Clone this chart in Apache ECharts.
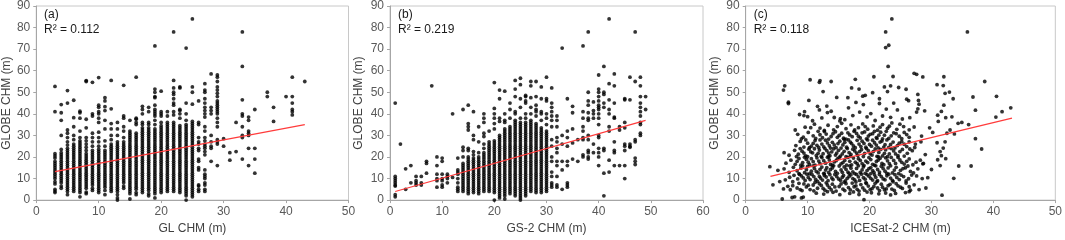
<!DOCTYPE html>
<html>
<head>
<meta charset="utf-8">
<script src="https://cdn.jsdelivr.net/npm/echarts@6/dist/echarts.min.js"></script>
<style>
html,body{margin:0;padding:0;background:#fff;}
#chart{width:1065px;height:240px;}
</style>
</head>
<body>
<div id="chart"></div>
<script>
// ---------- DATA ----------
const panelLabels = ['(a)', '(b)', '(c)'];
const r2Labels = ['R\u00B2 = 0.112', 'R\u00B2 = 0.219', 'R\u00B2 = 0.118'];
const xNames = ['GL CHM (m)', 'GS-2 CHM (m)', 'ICESat-2 CHM (m)'];
const yName = 'GLOBE CHM (m)';
const xMaxes = [50, 60, 50];
const yTicks = [0, 10, 20, 30, 40, 50, 60, 70, 80, 90];

// (a) GL CHM columns: [x, [GLOBE y values]]
const glColumns = [
  [3, [3.5,4.2,5,7.5,8.5,10,11,12,13,14,15,16,17,18,19.5,20.5,21.5,41,52.7]],
  [4, [5.5,6.5,8,9,10,11,12,13,14,15,16,17,18,19,20,21,22,23.5,30,37,40.5,44.3]],
  [5, [2.5,4,5,6,7,8,9,10,11,12,13,14,15,16,17,18,19,20,21,22,23,24,25.5,27,29,31,32.5,45,50.8]],
  [6, [4,5,6,7,8,9,10,11,12,13,14,15,16,17,18,19,20,21,22,23,24,25,26,28,30,34,38.2,46.3]],
  [7, [1.5,3.5,4.5,5.5,6.5,7.5,8.5,9.5,10.5,11.5,12.5,13.5,14.5,15.5,16.5,17.5,18.5,19.5,20.5,21.5,22.5,23.5,24.5,25.5,26.5,27.5,29,32,38,40.5,41.2]],
  [8, [3,3.7,5.5,6.5,7.5,8.5,9.5,10.5,11.5,12.5,13.5,14.5,15.5,16.5,17.5,18.5,19.5,20.5,21.5,23,24.5,26,27.5,29,33.5,37.5,55,55.4]],
  [9, [4.5,5.5,7,8,9,10,11,12,13,14,15,16,17,18,19,20,21,22,23,25,27,29,31,39,40,54.6]],
  [10, [3.5,4.5,5.5,6.5,7.5,8.5,9.5,10.5,11.5,12.5,13.5,14.5,15.5,16.5,17.5,18.5,19.5,20.5,21.5,22.5,23.5,25,27,29,31.5,36,38,40,41,43,44,56.8]],
  [11, [2.5,4.5,6,7,8,9,10,11,12,13,14,15,16,17,18,19,20,21,22,23,25,27.5,33,37,41.5,43.3,46,47.5]],
  [12, [4,5,6,7,8,9,10,11,12,13,14,15,16,17,18,19,20,21,22,23,24,25,26,28,30,33,35.5,42.3,55.5]],
  [13, [0,1,2.5,4,5,6,7,8,9,10,11,12,13,14,15,16,17,18,19,20,21,22,23,24,25,26,27,30,33,36]],
  [14, [5.5,6.5,8,9,10,11,12,13,14,15,16,17,18,19,20,21,22,23,24,25,26,27,29,32,34,38,39,53.2]],
  [15, [0.5,3,4,5,6,7,8,9,10,11,12,13,14,15,16,17,18,19,20,21,22,23,24,25,26,27,28,29,30,31,32,37]],
  [16, [2.5,3.5,5,6,7,8,9,10,11,12,13,14,15,16,17,18,19,20,21,22,23,24,25,26,27,28,29,30,31,35,36,37.5,38,57]],
  [17, [3.5,4.5,5.5,6.5,7.5,8.5,9.5,10.5,11.5,12.5,13.5,14.5,15.5,16.5,17.5,18.5,19.5,20.5,21.5,22.5,23.5,24.5,25.5,26.5,27.5,28.5,29.5,30.5,31.5,32.5,33.5,35,36,40,42,43.5]],
  [18, [2,3,4.5,5.5,6.5,7.5,8.5,9.5,10.5,11.5,12.5,13.5,14.5,15.5,16.5,17.5,18.5,19.5,20.5,21.5,22.5,23.5,24.5,25.5,26.5,27.5,28.5,29.5,30.5,31.5,32.5,33.5,35,36,41,43]],
  [19, [1,3,4,5,6,7,8,9,10,11,12,13,14,15,16,17,18,19,20,21,22,23,24,25,26,27,28,29,30,31,32,33,35,37,39,40,41,42,44,47.5,48,50,51.5,71.5]],
  [20, [3.5,4.5,5.5,6.5,7.5,8.5,9.5,10.5,11.5,12.5,13.5,14.5,15.5,16.5,17.5,18.5,19.5,20.5,21.5,22.5,23.5,24.5,25.5,26.5,27.5,28.5,29.5,30.5,31.5,32.5,33.5,34.5,36,39,40,41,50.5]],
  [21, [4,5,6,7,8,9,10,11,12,13,14,15,16,17,18,19,20,21,22,23,24,25,26,27,28,29,30,31,32,33,34,35,36,39,41]],
  [22, [4,5,6,7,8,9,10,11,12,13,14,15,16,17,18,19,20,21,22,23,24,25,26,27,28,29,30,31,32,33,34,35,36,39.5,41,44,45,47,49,50,52,55.5,78]],
  [23, [3.5,4.5,5.5,6.5,7.5,8.5,9.5,10.5,11.5,12.5,13.5,14.5,15.5,16.5,17.5,18.5,19.5,20.5,21.5,22.5,23.5,24.5,25.5,26.5,27.5,28.5,29.5,30.5,31.5,32.5,33.5,34.5,38,40,41.5,42,52,52.5]],
  [24, [0,2,3,4,5,6,7,8,9,10,11,12,13,14,15,16,17,18,19,20,21,22,23,24,25,26,27,28,29,30,31,32,33,34,35,37,40,45,70.5]],
  [25, [1.5,2.5,3.5,4.5,5.5,6.5,7.5,8.5,9.5,10.5,11.5,12.5,13.5,14.5,15.5,16.5,17.5,18.5,19.5,20.5,21.5,22.5,23.5,24.5,25.5,26.5,27.5,28.5,29.5,30.5,31.5,32.5,33.5,34.5,35.5,36.5,44.5,50,52.5,84]],
  [26, [4,5,6.5,7,14,15,18,19,23,24,26,27,29,35,36,46]],
  [27, [4,5,7,8,10,11,12,14,21,22.5,24,25,26,27.5,29,32,34,38.5,40,41.5,43,45,47,50,51,54]],
  [28, [18,24,25,27,30,40,41.5,43,58.5]],
  [29, [16,26,27,28,34,36,38,40,41,42,43,44,45,46,48,49.5,51,52.5,55,57,58]],
  [30, [25,28.5]],
  [31, [18.5,22]],
  [32, [22.5,36]],
  [33, [19,29,30,34,39,40,46.5,62,78]],
  [34, [16,24,30,31,32,37,38.5]],
  [35, [12.5,19,24,42]],
  [37, [48,50]],
  [38, [36.5,43]],
  [40, [48]],
  [41, [39.5,41,42,45,48,57]],
  [43, [55]]
];

// (b) GS-2 CHM columns: [x, [GLOBE y values]]
const gsColumns = [
  [1, [1.5,2.5,6.5,7,8,9,10,11,45]],
  [2, [26]],
  [3, [5,14.5]],
  [4, [8,16]],
  [5, [7,8,9,11]],
  [6, [7,8,11]],
  [7, [12.5,17,18]],
  [8, [53]],
  [9, [6,9,10,12,16,20]],
  [10, [6,7,9,10,12,18,19.5]],
  [11, [8,10,11,12]],
  [12, [10.5,40]],
  [13, [4,5,6,8,10,12,13,14,19.5]],
  [14, [4,5,6,7,8,9,10,11,12,13,14,15,16,17,20,23,24.5,42]],
  [15, [3,4,5,6,7,8,9,10,11,12,13,14,15,16,17,18,19,20,23,24,32.5,34,35.5,44]],
  [16, [3.5,4.5,5.5,6.5,7.5,8.5,9.5,10.5,11.5,12.5,13.5,14.5,15.5,16.5,17.5,18.5,19.5,21,22.5,28,30,41]],
  [17, [3,4,5,6,7,8,9,10,11,12,13,14,15,16,17,18,19,20,22,27,34]],
  [18, [4,5,6,7,8,9,10,11,12,13,14,15,16,17,18,19,20,21,22,24,26,29.5,31,36,38,40]],
  [19, [4,5,6,7,8,9,10,11,12,13,14,15,16,17,18,19,20,21,22,23,24,25,26,27,32]],
  [20, [0,3.5,4.5,5.5,6.5,7.5,8.5,9.5,10.5,11.5,12.5,13.5,14.5,15.5,16.5,17.5,18.5,19.5,20.5,21.5,22.5,23.5,24.5,25.5,26.5,27.5,33,35.5,38,40,42.5,54.5]],
  [21, [1,2,3,4,5,6,7,8,9,10,11,12,13,14,15,16,17,18,19,20,21,22,23,24,25,26,27,28,29,30,36.5,38,47,51]],
  [22, [0.5,2,3,4,5,6,7,8,9,10,11,12,13,14,15,16,17,18,19,20,21,22,23,24,25,26,27,28,29,30,31,32,33,36,37,40,50.5]],
  [23, [3,4,5,6,7,8,9,10,11,12,13,14,15,16,17,18,19,20,21,22,23,24,25,26,27,28,29,30,31,32,33,34,38,42,45]],
  [24, [2,3,4,5,6,7,8,9,10,11,12,13,14,15,16,17,18,19,20,21,22,23,24,25,26,27,28,29,30,31,32,33,34,35,36,37,40,41,48,51.5,55.5]],
  [25, [0,1,2,3,4,5,6,7,8,9,10,11,12,13,14,15,16,17,18,19,20,21,22,23,24,25,26,27,28,29,30,31,32,33,34,35,36,38,43,47,53.5,56.5]],
  [26, [2,3,4,5,6,7,8,9,10,11,12,13,14,15,16,17,18,19,20,21,22,23,24,25,26,27,28,29,30,31,32,33,34,35,36,38,40,45,46,48,48.5]],
  [27, [4,5,6,7,8,9,10,11,12,13,14,15,16,17,18,19,20,21,22,23,24,25,26,27,28,29,30,31,32,33,34,35,36,37,40,43,47.5,53,55]],
  [28, [3.5,4.5,5.5,6.5,7.5,8.5,9.5,10.5,11.5,12.5,13.5,14.5,15.5,16.5,17.5,18.5,19.5,20.5,21.5,22.5,23.5,24.5,25.5,26.5,27.5,28.5,29.5,30.5,31.5,32.5,33.5,34.5,35.5,39,41,42,44,48,55]],
  [29, [3.5,4.5,5.5,6.5,7.5,8.5,9.5,10.5,11.5,12.5,13.5,14.5,15.5,16.5,17.5,18.5,19.5,20.5,21.5,22.5,23.5,24.5,25.5,26.5,27.5,28.5,29.5,30.5,31.5,32.5,33.5,37,40,41,47,52.5]],
  [30, [4,5,6,7,8,9,10,11,12,13,14,15,16,17,18,19,20,21,22,23,24,25,26,27,28,29,30,31,32,35,38,40,46,47,57]],
  [31, [6,7,8,11,13,18,20,25,28,34,37,39,41,43,45,52]],
  [32, [6,7,11,16,18,22,24,27,29,34,37,39]],
  [33, [5,14,18,26,30,70.5]],
  [34, [6,7,8,16,18,25,29,32,47]],
  [35, [19,26.5,33,40.5,43.5]],
  [36, [18,28]],
  [37, [20,21,28,29,32,34,38,41,71.5]],
  [38, [19,20,22,23,28,30,37,38,40.5,44,46,50,78]],
  [39, [22,26,38,40,41.5,45.5]],
  [40, [16,20,22,24,29,30,35,38,40,42,43,44,46,48,50,51.5,58]],
  [41, [2,12.5,23,24,43,45,49,50,62]],
  [42, [13,18.5,32,34,40,42,46.5,54,84]],
  [43, [16,22,23,27,38,38.5,45,53,58.5]],
  [44, [16,32.5,34]],
  [45, [10,16,23,25,26,33.5,36,46.5,47]],
  [46, [24.5,25,26,46.5,57]],
  [47, [16.5,18,19.5,27,28,55,78]],
  [48, [30,31,35,36,39,41,43,45,48,53,57]],
  [49, [42,48]]
];

// (c) ICESat-2 CHM points: [x, y]
const icesatPoints = [
  [5.9,0.5],[7.5,1.2],[7.9,1.5],[9.0,1.0],[9.3,1.4],[18.3,2.6],[19.1,0.2],[31.7,2.3],[12.6,2.8],[15.2,2.5],[21.5,2.9],[23.4,2.4],[16.8,3.1],[20.3,3.4],[11.4,3.2],[14.1,3.6],[22.6,3.3],[25.8,3.5],[26.4,3.9],[13.2,3.9],[17.4,3.8],[19.6,3.7],[24.2,3.1],
  [6.1,5.2],[6.8,6.4],[7.2,4.8],[8.3,5.6],[9.1,4.4],[9.8,6.1],[10.4,4.9],[10.9,7.0],[11.6,5.5],[12.2,6.8],[12.8,4.6],[13.5,5.9],[14.0,7.4],[14.6,4.2],[15.1,6.3],[15.7,5.1],[16.2,7.6],[16.9,4.7],[17.5,6.2],[18.0,5.0],[18.6,7.2],[19.2,4.6],[19.8,6.5],[20.4,5.3],[20.9,7.8],[21.6,4.4],[22.1,6.0],[22.7,5.2],[23.3,7.3],[24.0,4.5],[24.6,6.6],[25.3,5.4],[25.9,7.9],[26.4,6.2],[27.2,7.1],[28.0,4.9],[29.1,5.6],[11.2,8.2],[13.0,8.0],[15.9,8.3],[17.8,8.4],[19.4,8.1],[21.2,8.6],[23.8,8.5],[8.6,7.8],[7.6,8.5],[5.5,8.6],[4.4,7.1],
  [10.1,6.9],[11.0,4.3],[11.9,7.6],[12.5,5.4],[13.2,7.0],[13.8,4.8],[14.4,6.1],[15.4,7.5],[16.0,4.4],[16.6,5.8],[17.2,7.9],[17.8,6.6],[18.3,4.2],[18.9,5.7],[19.5,7.7],[20.1,4.9],[20.7,6.3],[21.3,5.6],[21.9,7.4],[22.4,4.8],[23.0,6.7],[23.6,5.1],[24.3,7.6],[25.0,6.0],[9.4,7.5],[8.8,4.9],[7.6,6.7],[26.6,4.6],
  [6.4,9.4],[7.1,10.6],[7.8,11.5],[8.4,9.8],[9.0,11.2],[9.6,9.1],[10.1,10.5],[10.7,11.9],[11.3,9.6],[11.9,11.0],[12.4,9.3],[13.0,10.7],[13.6,11.8],[14.1,9.5],[14.7,10.9],[15.3,9.2],[15.8,11.4],[16.4,10.1],[17.0,11.7],[17.6,9.4],[18.2,10.8],[18.7,12.0],[19.3,9.7],[19.9,11.1],[20.5,9.3],[21.0,10.6],[21.6,11.9],[22.2,9.8],[22.8,11.3],[23.4,10.2],[24.1,11.8],[24.8,9.5],[25.5,10.9],[26.3,9.9],[27.6,11.2],[29.4,10.4],[33.6,10.1],[12.7,12.2],[16.7,12.4],[20.2,12.3],
  [8.7,11.9],[9.3,10.3],[9.9,12.0],[10.4,9.5],[11.0,10.9],[11.6,8.7],[12.1,10.2],[12.7,11.4],[13.3,9.0],[13.9,10.3],[14.4,11.9],[15.0,9.8],[15.6,10.6],[16.1,8.9],[16.7,11.0],[17.3,10.0],[17.9,11.9],[18.4,9.1],[19.0,10.4],[19.6,11.8],[20.2,10.1],[20.8,11.7],[21.3,9.0],[21.9,10.9],[22.5,9.4],[23.1,12.0],[23.7,9.1],[24.4,10.5],[25.1,11.6],[25.9,8.9],[26.8,11.6],[28.5,10.0],
  [3.9,15.5],[5.2,13.8],[6.2,14.5],[7.0,12.9],[7.7,15.2],[8.3,13.6],[8.9,14.8],[9.5,12.7],[10.0,15.6],[10.6,13.4],[11.1,14.6],[11.7,12.6],[12.3,15.3],[12.9,13.9],[13.4,12.8],[14.0,14.9],[14.5,13.3],[15.1,15.8],[15.6,12.9],[16.2,14.3],[16.8,15.9],[17.3,13.1],[17.9,14.7],[18.5,12.8],[19.0,15.4],[19.6,13.7],[20.2,15.1],[20.7,12.9],[21.3,14.2],[21.9,15.7],[22.5,13.4],[23.0,14.9],[23.7,12.6],[24.3,15.2],[25.0,13.8],[25.8,15.0],[26.6,13.3],[27.8,14.5],[28.6,16.8],[30.0,14.2],[34.4,15.8],[36.4,15.8],[31.4,16.0],
  [8.6,12.3],[9.2,15.9],[9.8,14.1],[10.3,12.2],[10.9,15.9],[11.4,13.3],[12.0,14.2],[12.6,12.4],[13.1,15.0],[13.7,14.2],[14.2,15.9],[14.8,12.4],[15.4,14.0],[15.9,15.4],[16.5,13.0],[17.0,14.8],[17.6,12.3],[18.2,15.9],[18.8,14.0],[19.3,12.4],[19.9,14.6],[20.5,13.7],[21.0,15.9],[21.6,13.0],[22.2,14.6],[22.8,12.4],[23.4,15.9],[24.0,13.9],[24.7,12.3],[25.4,14.6],[26.2,15.8],[27.1,12.6],
  [6.5,17.1],[7.3,18.5],[8.0,16.6],[8.6,19.3],[9.2,17.4],[9.8,18.9],[10.3,16.4],[10.9,17.8],[11.5,19.6],[12.0,16.9],[12.6,18.3],[13.2,19.9],[13.7,16.5],[14.3,17.7],[14.8,19.1],[15.4,16.8],[16.0,18.4],[16.5,19.8],[17.1,16.3],[17.7,17.6],[18.2,19.2],[18.8,16.9],[19.4,18.1],[19.9,19.7],[20.5,16.6],[21.1,17.9],[21.7,19.4],[22.3,16.4],[22.9,18.2],[23.5,19.8],[24.2,17.0],[24.9,18.6],[25.6,16.7],[26.4,19.1],[27.5,17.6],[28.2,18.5],[28.7,17.0],[31.0,18.7],[32.3,19.2],[13.4,20.1],[16.9,20.3],[21.4,20.2],
  [8.3,18.0],[8.9,16.2],[9.5,19.9],[10.1,17.6],[10.6,19.2],[11.2,16.2],[11.8,18.1],[12.3,19.7],[12.9,17.1],[13.5,18.6],[14.0,16.2],[14.6,18.3],[15.1,19.8],[15.7,17.4],[16.3,16.2],[16.8,18.0],[17.4,19.5],[18.0,16.9],[18.5,18.4],[19.1,16.1],[19.7,17.4],[20.2,18.8],[20.8,16.2],[21.4,18.6],[22.0,17.0],[22.6,19.6],[23.2,16.9],[23.9,18.4],[24.6,19.8],[25.2,17.5],[26.0,18.0],[27.0,16.4],
  [6.2,22.0],[7.0,20.8],[7.9,23.1],[8.5,21.3],[9.1,22.7],[9.7,20.5],[10.2,23.6],[10.8,21.9],[11.4,20.7],[11.9,23.2],[12.5,21.5],[13.1,22.9],[13.6,20.6],[14.2,23.8],[14.7,21.8],[15.3,20.4],[15.9,22.6],[16.4,23.9],[17.0,21.2],[17.6,22.8],[18.1,20.7],[18.7,23.4],[19.2,21.6],[19.8,22.9],[20.4,20.9],[20.9,23.7],[21.5,22.1],[22.1,20.5],[22.6,23.3],[23.2,21.4],[23.9,22.8],[24.6,20.6],[25.3,23.5],[26.1,21.7],[26.9,22.9],[27.4,26.0],[31.4,22.5],[31.9,24.1],[31.6,20.6],[38.1,23.7],[29.0,21.1],
  [8.2,20.2],[8.8,23.9],[9.4,21.8],[10.0,20.1],[10.5,22.4],[11.1,23.8],[11.7,21.7],[12.2,20.3],[12.8,23.9],[13.4,21.8],[13.9,22.4],[14.5,20.9],[15.0,23.1],[15.6,21.4],[16.2,20.1],[16.7,22.0],[17.3,23.6],[17.9,21.8],[18.4,22.5],[19.0,20.2],[19.5,23.9],[20.1,21.5],[20.6,22.5],[21.2,20.3],[21.8,23.5],[22.4,21.7],[22.9,20.1],[23.5,23.9],[24.2,21.4],[24.9,22.5],[25.6,20.4],[26.5,23.7],
  [8.1,25.3],[8.8,27.2],[9.4,24.6],[10.0,26.4],[10.6,25.0],[11.2,27.6],[11.8,24.4],[12.3,26.0],[12.9,27.8],[13.5,25.2],[14.0,26.8],[14.6,24.3],[15.2,27.3],[15.7,25.6],[16.3,24.5],[16.9,26.9],[17.4,25.1],[18.0,27.7],[18.6,24.8],[19.1,26.3],[19.7,27.9],[20.3,25.0],[20.8,26.6],[21.4,24.2],[22.0,27.4],[22.5,25.7],[23.1,24.4],[23.8,26.9],[24.5,25.3],[25.2,27.1],[26.0,24.8],[27.3,24.4],[28.3,27.0],[30.9,26.6],[32.2,27.0],[37.1,28.5],[9.0,28.4],[15.9,28.2],[21.2,28.6],
  [9.7,27.9],[10.3,24.3],[10.9,26.3],[11.5,25.4],[12.0,27.9],[12.6,24.7],[13.2,26.5],[13.7,24.1],[14.3,25.6],[14.9,26.2],[15.4,24.1],[16.0,26.8],[16.6,27.9],[17.1,26.2],[17.7,24.3],[18.3,26.0],[18.8,27.3],[19.4,24.5],[20.0,25.8],[20.5,27.8],[21.1,25.5],[21.7,26.9],[22.3,24.6],[22.8,27.9],[23.4,25.8],[24.1,24.2],[24.8,26.4],[25.6,25.9],[26.4,27.0],
  [8.4,30.5],[9.3,29.2],[10.1,31.4],[10.9,29.8],[11.7,31.9],[12.4,28.9],[13.0,30.6],[13.8,29.5],[14.5,31.7],[15.1,30.0],[15.8,28.7],[16.5,31.2],[17.2,29.4],[17.9,30.9],[18.5,28.8],[19.2,31.6],[19.8,29.7],[20.5,30.8],[21.1,29.0],[21.8,31.5],[22.4,30.1],[23.1,28.6],[23.9,31.2],[24.8,29.6],[25.6,31.4],[26.4,29.1],[28.4,29.7],[30.2,31.4],[32.5,31.0],[33.7,30.7],
  [11.3,28.6],[12.0,30.3],[12.7,31.8],[13.4,28.3],[14.1,30.8],[14.8,29.1],[15.5,31.0],[16.2,28.3],[16.8,30.2],[17.5,31.9],[18.2,29.6],[18.8,31.2],[19.5,28.4],[20.1,30.5],[20.8,31.9],[21.5,30.1],[22.1,28.4],[22.7,31.9],[23.5,29.8],[24.3,30.8],[25.2,28.5],[26.0,30.4],
  [8.0,32.5],[9.6,33.8],[11.1,35.2],[12.0,33.4],[13.3,34.7],[14.2,32.6],[15.5,35.6],[16.2,33.1],[17.0,34.9],[18.2,33.6],[18.9,35.3],[19.7,32.9],[20.6,34.4],[21.3,32.4],[22.1,35.0],[22.9,33.3],[23.6,35.8],[24.4,32.8],[25.5,34.1],[27.2,33.9],[29.7,33.5],[31.1,36.5],[34.3,35.6],[33.0,32.5],[36.0,35.0],
  [10.5,33.6],[12.7,32.3],[14.8,34.1],[17.6,32.5],[19.3,34.1],[21.7,33.8],[23.2,34.3],[24.9,35.2],[26.4,32.6],
  [8.7,39.7],[9.5,41.0],[10.0,38.7],[10.8,36.8],[11.6,43.5],[11.9,41.8],[12.3,38.1],[13.2,40.6],[13.8,41.2],[14.3,38.3],[15.2,36.7],[16.0,37.3],[16.6,42.8],[17.3,39.2],[17.8,45.3],[18.4,40.8],[19.0,44.3],[19.6,38.6],[20.2,40.1],[20.9,36.9],[21.6,44.8],[22.1,39.0],[22.7,42.2],[23.4,38.4],[23.9,45.0],[24.5,41.8],[25.3,37.6],[26.5,38.2],[27.6,40.8],[28.0,44.5],[27.8,42.3],[28.9,41.4],[31.0,39.4],[31.6,41.1],[32.0,44.0],[32.3,38.2],[34.9,36.0],[33.3,38.6],[37.1,41.7],[40.4,38.5],[41.4,41.0],[42.8,42.8],[10.2,46.2],[13.1,43.6],[15.3,37.8],[26.0,46.8],[9.4,39.2],
  [6.9,45.4],[6.9,44.8],[6.1,51.0],[6.3,53.0],[10.4,55.8],[11.9,54.6],[12.0,55.4],[13.8,55.0],[17.7,56.0],[16.5,47.5],[17.1,52.0],[18.3,51.5],[18.9,48.2],[20.5,49.8],[20.7,57.2],[21.6,47.0],[22.4,52.5],[22.9,50.3],[23.8,57.3],[23.4,53.0],[24.7,52.2],[25.9,51.4],[26.3,46.1],[27.2,58.8],[27.6,58.3],[28.6,57.1],[27.8,49.0],[27.9,46.2],[30.9,53.5],[31.9,53.1],[32.0,57.2],[32.2,49.5],[32.9,50.1],[33.5,47.0],[36.7,47.8],[38.6,55.0],[40.5,48.1],[19.3,48.6],[14.7,47.6],[12.5,50.3],
  [23.6,84],[22.6,78],[23.1,71.8],[22.6,70.7],[23.0,62],[35.8,78]
];

// Linear trend lines (end points)
const trendA = [[3, 13.2], [43, 35]];
const trendB = [[1, 4], [49, 37]];
const trendC = [[4, 11], [43, 38]];

// ---------- CHART ----------
const columnsToPoints = cols => cols.flatMap(([x, ys]) => ys.map(y => [x, y]));
const datasets = [columnsToPoints(glColumns), columnsToPoints(gsColumns), icesatPoints];
const trends = [trendA, trendB, trendC];

const FONT = 'Liberation Sans, Arial, sans-serif';
const gridLefts = [36, 390, 745.7];
const gridWidths = [312.5, 313, 312.6];
const yNameGaps = [21, 25, 25];

const grids = [], xAxes = [], yAxes = [], series = [], graphics = [];
for (let i = 0; i < 3; i++) {
  grids.push({ left: gridLefts[i], width: gridWidths[i], top: 6, height: 200,
    show: true, borderColor: '#c8c8c8', borderWidth: 1, containLabel: false });
  xAxes.push({
    gridIndex: i, type: 'value', min: 0, max: xMaxes[i], interval: 10,
    name: xNames[i], nameLocation: 'middle', nameGap: 19,
    nameTextStyle: { color: '#404040', fontSize: 12, fontFamily: FONT },
    axisLine: { show: true, onZero: false, lineStyle: { color: '#a6a6a6', width: 1 } },
    axisTick: { show: true, inside: false, length: 3, lineStyle: { color: '#a6a6a6' } },
    axisLabel: { color: '#595959', fontSize: 12, fontFamily: FONT, margin: 6 },
    splitLine: { show: false }
  });
  yAxes.push({
    gridIndex: i, type: 'value', min: yTicks[0], max: yTicks[yTicks.length - 1], interval: 10,
    name: yName, nameLocation: 'middle', nameGap: yNameGaps[i], nameRotate: 90,
    nameTextStyle: { color: '#404040', fontSize: 12, fontFamily: FONT },
    axisLine: { show: true, onZero: false, lineStyle: { color: '#a6a6a6', width: 1 } },
    axisTick: { show: true, inside: false, length: 3, lineStyle: { color: '#a6a6a6' } },
    axisLabel: { color: '#595959', fontSize: 12, fontFamily: FONT, margin: 6 },
    splitLine: { show: false }
  });
  series.push({
    type: 'scatter', xAxisIndex: i, yAxisIndex: i, data: datasets[i],
    symbol: 'circle', symbolSize: 3.8, itemStyle: { color: '#000' },
    silent: true, animation: false, z: 2
  });
  series.push({
    type: 'line', xAxisIndex: i, yAxisIndex: i, data: trends[i],
    symbol: 'none', lineStyle: { color: '#ff3b3b', width: 1.2 },
    silent: true, animation: false, z: 3
  });
  graphics.push({ type: 'text', left: gridLefts[i] + 8, top: 9,
    style: { text: panelLabels[i], fill: '#1a1a1a', font: '12px ' + FONT } });
  graphics.push({ type: 'text', left: gridLefts[i] + 8, top: 24,
    style: { text: r2Labels[i], fill: '#1a1a1a', font: '12px ' + FONT } });
}

const chart = echarts.init(document.getElementById('chart'), null, { renderer: 'canvas' });
chart.setOption({
  animation: false,
  backgroundColor: '#fff',
  grid: grids, xAxis: xAxes, yAxis: yAxes, series: series, graphic: graphics
});
</script>
</body>
</html>
